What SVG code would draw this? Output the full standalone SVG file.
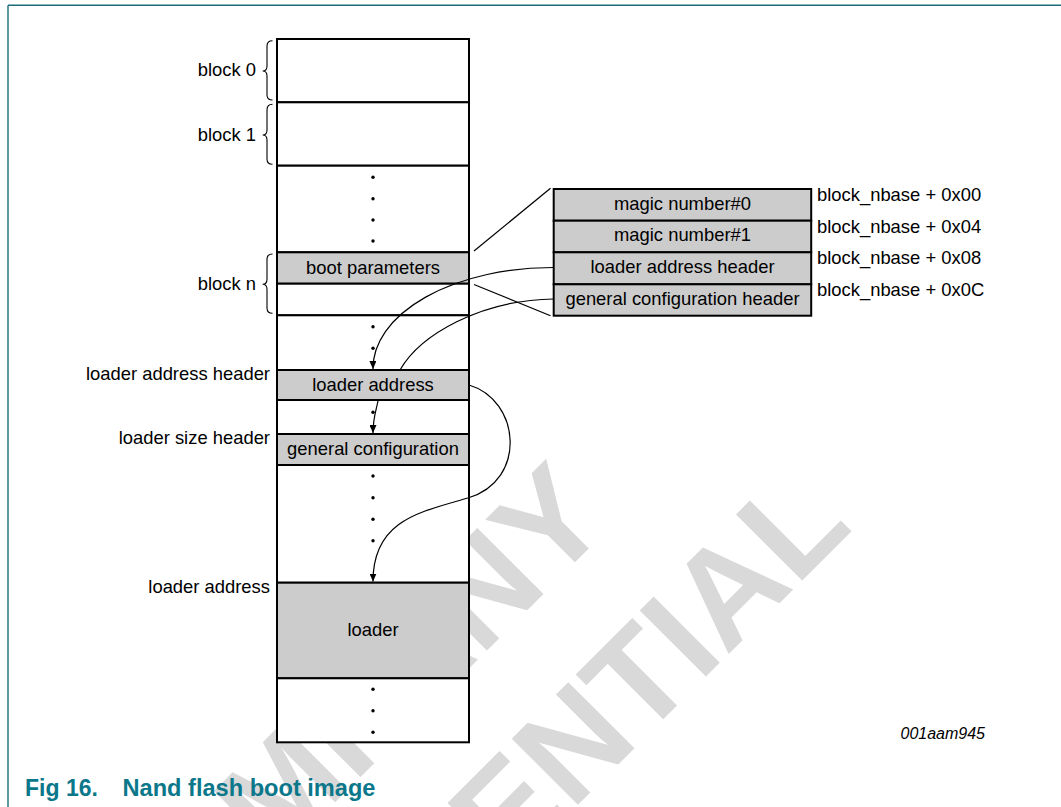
<svg xmlns="http://www.w3.org/2000/svg" width="1061" height="807" viewBox="0 0 1061 807">
<defs>
<marker id="arr" viewBox="0 0 8 7" refX="8" refY="3.5" markerWidth="8" markerHeight="7" markerUnits="userSpaceOnUse" orient="auto"><path d="M0,0 L8,3.5 L0,7 z" fill="#000"/></marker>
<style>
.cell{stroke:#000;stroke-width:2}
.w{fill:#fff}
.g{fill:#cccccc}
.t{font-family:"Liberation Sans",Arial,sans-serif;font-size:18.4px;fill:#000}
.c{text-anchor:middle}
.r{text-anchor:end}
.conn{fill:none;stroke:#000;stroke-width:1.2}
.brace{fill:none;stroke:#000;stroke-width:1.1}
.dot{fill:#000}
.wm{font-family:"Liberation Sans",Arial,sans-serif;font-weight:bold;font-size:136px;fill:#d9d9d9;text-anchor:end}
</style>
</defs>
<rect width="1061" height="807" fill="#fff"/>
<g id="page-border" fill="none" stroke="#1d6c7a" stroke-width="1.4">
<line x1="8" y1="5.3" x2="1061" y2="5.3"/>
<line x1="8" y1="5.3" x2="8" y2="807"/>
</g>
<g id="watermark">
<text class="wm" transform="translate(614,523.4) rotate(-45)">COMPANY</text>
<text class="wm" transform="translate(854.5,528.2) rotate(-45)">CONFIDENTIAL</text>
</g>
<g id="memory-column">
<g id="block0"><rect class="cell w" x="277" y="39" width="192" height="63.3"/></g>
<g id="block1"><rect class="cell w" x="277" y="102.3" width="192" height="63.4"/></g>
<g id="gap1"><rect class="cell w" x="277" y="165.7" width="192" height="86.6"/>
<circle class="dot" cx="373" cy="177.3" r="1.7"/><circle class="dot" cx="373" cy="198.7" r="1.7"/><circle class="dot" cx="373" cy="220" r="1.7"/><circle class="dot" cx="373" cy="241" r="1.7"/></g>
<g id="boot-parameters"><rect class="cell g" x="277" y="252.3" width="192" height="31.4"/>
<text class="t c" x="373" y="273.5">boot parameters</text></g>
<g id="blockn-rest"><rect class="cell w" x="277" y="283.7" width="192" height="31.6"/></g>
<g id="gap2"><rect class="cell w" x="277" y="315.3" width="192" height="54.7"/>
<circle class="dot" cx="373" cy="326.7" r="1.7"/><circle class="dot" cx="373" cy="348.3" r="1.7"/></g>
<g id="loader-address"><rect class="cell g" x="277" y="370" width="192" height="30"/>
<text class="t c" x="373" y="391">loader address</text></g>
<g id="gap3"><rect class="cell w" x="277" y="400" width="192" height="34"/>
<circle class="dot" cx="373" cy="412.3" r="1.7"/></g>
<g id="general-configuration"><rect class="cell g" x="277" y="434" width="192" height="31"/>
<text class="t c" x="373" y="455">general configuration</text></g>
<g id="gap4"><rect class="cell w" x="277" y="465" width="192" height="117.7"/>
<circle class="dot" cx="373" cy="476" r="1.7"/><circle class="dot" cx="373" cy="497.7" r="1.7"/><circle class="dot" cx="373" cy="519.3" r="1.7"/><circle class="dot" cx="373" cy="540.7" r="1.7"/></g>
<g id="loader"><rect class="cell g" x="277" y="582.7" width="192" height="95.6"/>
<text class="t c" x="373" y="636">loader</text></g>
<g id="gap5"><rect class="cell w" x="277" y="678.3" width="192" height="64"/>
<circle class="dot" cx="373" cy="689.3" r="1.7"/><circle class="dot" cx="373" cy="710.7" r="1.7"/><circle class="dot" cx="373" cy="732.3" r="1.7"/></g>
</g>
<g id="labels-left">
<text class="t r" x="256" y="76">block 0</text>
<path class="brace" d="M272.5,40.7 Q267,40.7 267,46 L267,66 Q267,71 262.7,71 Q267,71 267,76 L267,95 Q267,100 272.5,100"/>
<text class="t r" x="256" y="141">block 1</text>
<path class="brace" d="M272.5,104.3 Q267,104.3 267,110 L267,130 Q267,135 262.7,135 Q267,135 267,140 L267,159 Q267,164.3 272.5,164.3"/>
<text class="t r" x="256" y="290">block n</text>
<path class="brace" d="M272.5,254 Q267,254 267,259.5 L267,279 Q267,284.3 262.7,284.3 Q267,284.3 267,289.5 L267,308 Q267,313.3 272.5,313.3"/>
<text class="t r" x="270" y="380">loader address header</text>
<text class="t r" x="270" y="444">loader size header</text>
<text class="t r" x="270" y="593">loader address</text>
</g>
<g id="header-table">
<g id="magic0"><rect class="cell g" x="553.7" y="189" width="257.5" height="31.7"/><text class="t c" x="682.5" y="210">magic number#0</text></g>
<g id="magic1"><rect class="cell g" x="553.7" y="220.7" width="257.5" height="31.6"/><text class="t c" x="682.5" y="241.3">magic number#1</text></g>
<g id="loader-address-header"><rect class="cell g" x="553.7" y="252.3" width="257.5" height="32"/><text class="t c" x="682.5" y="272.8">loader address header</text></g>
<g id="general-configuration-header"><rect class="cell g" x="553.7" y="284.3" width="257.5" height="31.4"/><text class="t c" x="682.5" y="304.5">general configuration header</text></g>
<text class="t" x="817" y="201">block_nbase + 0x00</text>
<text class="t" x="817" y="232.7">block_nbase + 0x04</text>
<text class="t" x="817" y="264.3">block_nbase + 0x08</text>
<text class="t" x="817" y="296">block_nbase + 0x0C</text>
</g>
<g id="connectors">
<line class="conn" stroke-width="1" x1="474" y1="251" x2="550.5" y2="188.3"/>
<line class="conn" stroke-width="1" x1="474" y1="284.5" x2="550.5" y2="315.7"/>
<path class="conn" d="M553.7,267.5 A180,101 0 0 0 373,369" marker-end="url(#arr)"/>
<path class="conn" d="M553.7,299 C480,300 420,335 400,370"/>
<path class="conn" d="M378,401 C376,411 373,418 373,433" marker-end="url(#arr)"/>
<path class="conn" d="M469,385 C520,400 528,480 468,498 C420,512 373,520 373,581.5" marker-end="url(#arr)"/>
</g>
<text id="fig-id" x="985" y="739" text-anchor="end" font-family="Liberation Sans, Arial, sans-serif" font-style="italic" font-size="16px" fill="#000">001aam945</text>
<text id="caption" font-family="Liberation Sans, Arial, sans-serif" font-weight="bold" font-size="23px" fill="#0b778a" y="795.5"><tspan x="25">Fig 16.</tspan><tspan x="122.5" textLength="253" lengthAdjust="spacingAndGlyphs">Nand flash boot image</tspan></text>
</svg>
